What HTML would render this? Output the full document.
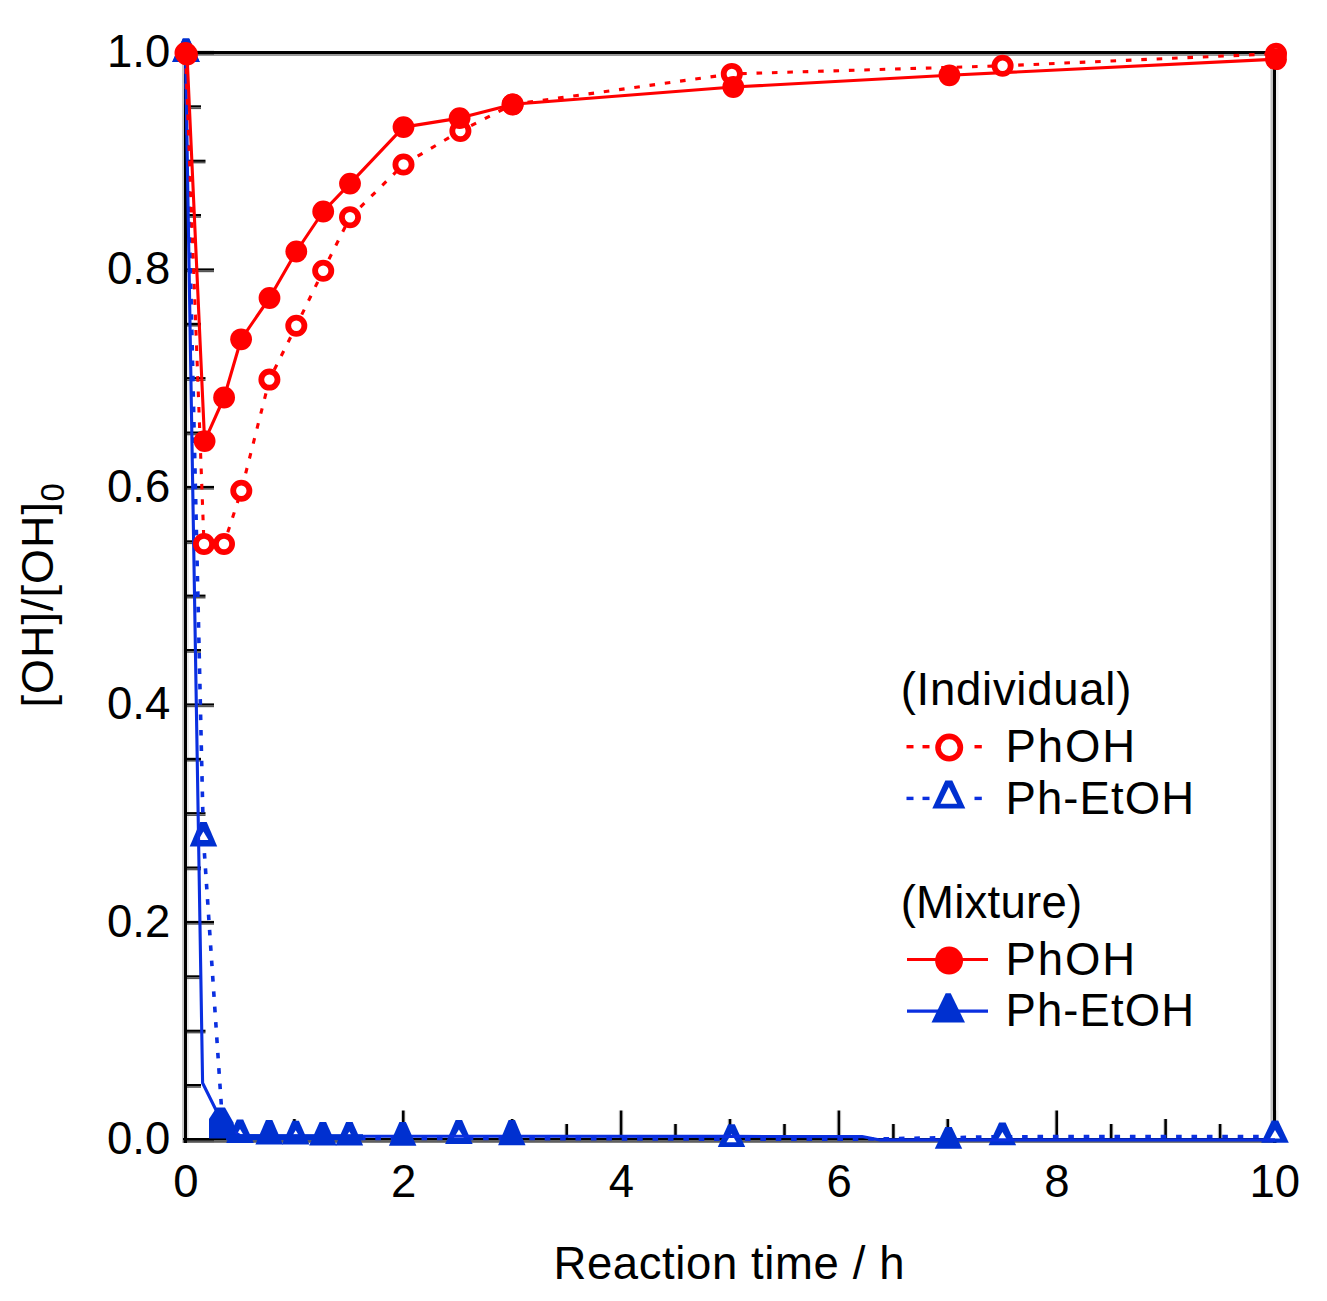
<!DOCTYPE html>
<html><head><meta charset="utf-8"><style>
html,body{margin:0;padding:0;background:#fff;width:1327px;height:1301px;overflow:hidden}
svg{display:block}
text{font-family:"Liberation Sans",sans-serif}
</style></head><body>
<svg width="1327" height="1301" viewBox="0 0 1327 1301">
<rect width="1327" height="1301" fill="#fff"/>
<rect x="182" y="51" width="2" height="1092" fill="#c8c8c8"/>
<rect x="187" y="56" width="2" height="1082" fill="#ececec"/>
<rect x="1270.5" y="56" width="2.5" height="1082" fill="#c0c0c0"/>
<rect x="1276" y="51" width="2.5" height="1092" fill="#f0f0f0"/>
<rect x="183" y="54" width="1094" height="2" fill="#9a9a9a"/>
<rect x="183" y="1140.2" width="1094" height="2.6" fill="#5f5f5f"/>
<rect x="185" y="1138.4" width="29.0" height="2.2" fill="#000"/>
<rect x="185" y="1140.6" width="29.0" height="1.6" fill="#555"/>
<rect x="185" y="1084.0" width="16.0" height="2.2" fill="#000"/>
<rect x="185" y="1086.2" width="16.0" height="1.6" fill="#555"/>
<rect x="185" y="1029.7" width="20.5" height="2.2" fill="#000"/>
<rect x="185" y="1031.8" width="20.5" height="1.6" fill="#555"/>
<rect x="185" y="975.3" width="16.0" height="2.2" fill="#000"/>
<rect x="185" y="977.5" width="16.0" height="1.6" fill="#555"/>
<rect x="185" y="920.9" width="29.0" height="2.2" fill="#000"/>
<rect x="185" y="923.1" width="29.0" height="1.6" fill="#555"/>
<rect x="185" y="866.5" width="16.0" height="2.2" fill="#000"/>
<rect x="185" y="868.7" width="16.0" height="1.6" fill="#555"/>
<rect x="185" y="812.1" width="20.5" height="2.2" fill="#000"/>
<rect x="185" y="814.4" width="20.5" height="1.6" fill="#555"/>
<rect x="185" y="757.8" width="16.0" height="2.2" fill="#000"/>
<rect x="185" y="760.0" width="16.0" height="1.6" fill="#555"/>
<rect x="185" y="703.4" width="29.0" height="2.2" fill="#000"/>
<rect x="185" y="705.6" width="29.0" height="1.6" fill="#555"/>
<rect x="185" y="649.0" width="16.0" height="2.2" fill="#000"/>
<rect x="185" y="651.2" width="16.0" height="1.6" fill="#555"/>
<rect x="185" y="594.6" width="20.5" height="2.2" fill="#000"/>
<rect x="185" y="596.9" width="20.5" height="1.6" fill="#555"/>
<rect x="185" y="540.3" width="16.0" height="2.2" fill="#000"/>
<rect x="185" y="542.5" width="16.0" height="1.6" fill="#555"/>
<rect x="185" y="485.9" width="29.0" height="2.2" fill="#000"/>
<rect x="185" y="488.1" width="29.0" height="1.6" fill="#555"/>
<rect x="185" y="431.5" width="16.0" height="2.2" fill="#000"/>
<rect x="185" y="433.7" width="16.0" height="1.6" fill="#555"/>
<rect x="185" y="377.1" width="20.5" height="2.2" fill="#000"/>
<rect x="185" y="379.4" width="20.5" height="1.6" fill="#555"/>
<rect x="185" y="322.8" width="16.0" height="2.2" fill="#000"/>
<rect x="185" y="325.0" width="16.0" height="1.6" fill="#555"/>
<rect x="185" y="268.4" width="29.0" height="2.2" fill="#000"/>
<rect x="185" y="270.6" width="29.0" height="1.6" fill="#555"/>
<rect x="185" y="214.0" width="16.0" height="2.2" fill="#000"/>
<rect x="185" y="216.2" width="16.0" height="1.6" fill="#555"/>
<rect x="185" y="159.7" width="20.5" height="2.2" fill="#000"/>
<rect x="185" y="161.8" width="20.5" height="1.6" fill="#555"/>
<rect x="185" y="105.3" width="16.0" height="2.2" fill="#000"/>
<rect x="185" y="107.5" width="16.0" height="1.6" fill="#555"/>
<rect x="185" y="50.9" width="29.0" height="2.2" fill="#000"/>
<rect x="185" y="53.1" width="29.0" height="1.6" fill="#555"/>
<rect x="183.2" y="1110.5" width="1" height="29.5" fill="#ccc"/>
<rect x="186.8" y="1110.5" width="1" height="29.5" fill="#ddd"/>
<rect x="184.2" y="1110.5" width="2.6" height="29.5" fill="#000"/>
<rect x="237.6" y="1124.0" width="1" height="16.0" fill="#ccc"/>
<rect x="241.2" y="1124.0" width="1" height="16.0" fill="#ddd"/>
<rect x="238.6" y="1124.0" width="2.6" height="16.0" fill="#000"/>
<rect x="292.1" y="1119.0" width="1" height="21.0" fill="#ccc"/>
<rect x="295.7" y="1119.0" width="1" height="21.0" fill="#ddd"/>
<rect x="293.1" y="1119.0" width="2.6" height="21.0" fill="#000"/>
<rect x="346.6" y="1124.0" width="1" height="16.0" fill="#ccc"/>
<rect x="350.2" y="1124.0" width="1" height="16.0" fill="#ddd"/>
<rect x="347.6" y="1124.0" width="2.6" height="16.0" fill="#000"/>
<rect x="401.0" y="1110.5" width="1" height="29.5" fill="#ccc"/>
<rect x="404.6" y="1110.5" width="1" height="29.5" fill="#ddd"/>
<rect x="402.0" y="1110.5" width="2.6" height="29.5" fill="#000"/>
<rect x="455.4" y="1124.0" width="1" height="16.0" fill="#ccc"/>
<rect x="459.1" y="1124.0" width="1" height="16.0" fill="#ddd"/>
<rect x="456.4" y="1124.0" width="2.6" height="16.0" fill="#000"/>
<rect x="509.9" y="1119.0" width="1" height="21.0" fill="#ccc"/>
<rect x="513.5" y="1119.0" width="1" height="21.0" fill="#ddd"/>
<rect x="510.9" y="1119.0" width="2.6" height="21.0" fill="#000"/>
<rect x="564.4" y="1124.0" width="1" height="16.0" fill="#ccc"/>
<rect x="567.9" y="1124.0" width="1" height="16.0" fill="#ddd"/>
<rect x="565.4" y="1124.0" width="2.6" height="16.0" fill="#000"/>
<rect x="618.8" y="1110.5" width="1" height="29.5" fill="#ccc"/>
<rect x="622.4" y="1110.5" width="1" height="29.5" fill="#ddd"/>
<rect x="619.8" y="1110.5" width="2.6" height="29.5" fill="#000"/>
<rect x="673.2" y="1124.0" width="1" height="16.0" fill="#ccc"/>
<rect x="676.8" y="1124.0" width="1" height="16.0" fill="#ddd"/>
<rect x="674.2" y="1124.0" width="2.6" height="16.0" fill="#000"/>
<rect x="727.7" y="1119.0" width="1" height="21.0" fill="#ccc"/>
<rect x="731.3" y="1119.0" width="1" height="21.0" fill="#ddd"/>
<rect x="728.7" y="1119.0" width="2.6" height="21.0" fill="#000"/>
<rect x="782.2" y="1124.0" width="1" height="16.0" fill="#ccc"/>
<rect x="785.8" y="1124.0" width="1" height="16.0" fill="#ddd"/>
<rect x="783.2" y="1124.0" width="2.6" height="16.0" fill="#000"/>
<rect x="836.6" y="1110.5" width="1" height="29.5" fill="#ccc"/>
<rect x="840.2" y="1110.5" width="1" height="29.5" fill="#ddd"/>
<rect x="837.6" y="1110.5" width="2.6" height="29.5" fill="#000"/>
<rect x="891.1" y="1124.0" width="1" height="16.0" fill="#ccc"/>
<rect x="894.6" y="1124.0" width="1" height="16.0" fill="#ddd"/>
<rect x="892.1" y="1124.0" width="2.6" height="16.0" fill="#000"/>
<rect x="945.5" y="1119.0" width="1" height="21.0" fill="#ccc"/>
<rect x="949.1" y="1119.0" width="1" height="21.0" fill="#ddd"/>
<rect x="946.5" y="1119.0" width="2.6" height="21.0" fill="#000"/>
<rect x="1000.0" y="1124.0" width="1" height="16.0" fill="#ccc"/>
<rect x="1003.5" y="1124.0" width="1" height="16.0" fill="#ddd"/>
<rect x="1001.0" y="1124.0" width="2.6" height="16.0" fill="#000"/>
<rect x="1054.4" y="1110.5" width="1" height="29.5" fill="#ccc"/>
<rect x="1058.0" y="1110.5" width="1" height="29.5" fill="#ddd"/>
<rect x="1055.4" y="1110.5" width="2.6" height="29.5" fill="#000"/>
<rect x="1108.9" y="1124.0" width="1" height="16.0" fill="#ccc"/>
<rect x="1112.5" y="1124.0" width="1" height="16.0" fill="#ddd"/>
<rect x="1109.9" y="1124.0" width="2.6" height="16.0" fill="#000"/>
<rect x="1163.3" y="1119.0" width="1" height="21.0" fill="#ccc"/>
<rect x="1166.9" y="1119.0" width="1" height="21.0" fill="#ddd"/>
<rect x="1164.3" y="1119.0" width="2.6" height="21.0" fill="#000"/>
<rect x="1217.8" y="1124.0" width="1" height="16.0" fill="#ccc"/>
<rect x="1221.3" y="1124.0" width="1" height="16.0" fill="#ddd"/>
<rect x="1218.8" y="1124.0" width="2.6" height="16.0" fill="#000"/>
<rect x="1272.2" y="1110.5" width="1" height="29.5" fill="#ccc"/>
<rect x="1275.8" y="1110.5" width="1" height="29.5" fill="#ddd"/>
<rect x="1273.2" y="1110.5" width="2.6" height="29.5" fill="#000"/>
<rect x="183" y="51" width="1094" height="3" fill="#000"/>
<rect x="183" y="1138" width="1094" height="2.2" fill="#000"/>
<rect x="184" y="51" width="3" height="1092" fill="#000"/>
<rect x="1273" y="51" width="3" height="1092" fill="#000"/>
<polyline points="185.5,52.5 203.4,838.0 221.5,1108.0 222.0,1128.0 240.0,1137.5 269.0,1138.5 295.7,1138.5 349.3,1138.5 403.0,1138.5 458.9,1138.5 512.0,1138.5 731.5,1139.2 860.0,1139.2 1002.4,1136.7 1275.0,1136.5" fill="none" stroke="#0a2fe0" stroke-width="3.6" stroke-dasharray="5.6 9.8" stroke-linejoin="round"/>
<polygon points="200.2,822.0 206.7,822.0 217.2,846.5 189.7,846.5" fill="#0030d0"/><polygon points="203.4,831.5 198.4,840.0 208.4,840.0" fill="#fff"/>
<polygon points="236.8,1119.5 243.2,1119.5 253.8,1143.0 226.2,1143.0" fill="#0030d0"/><polygon points="240.0,1129.0 235.0,1137.5 245.0,1137.5" fill="#fff"/>
<polygon points="292.4,1120.8 298.9,1120.8 309.4,1144.5 281.9,1144.5" fill="#0030d0"/><polygon points="295.7,1130.3 290.7,1138.8 300.7,1138.8" fill="#fff"/>
<polygon points="346.1,1122.0 352.6,1122.0 363.1,1145.5 335.6,1145.5" fill="#0030d0"/><polygon points="349.3,1131.5 344.3,1140.0 354.3,1140.0" fill="#fff"/>
<polygon points="455.6,1120.0 462.1,1120.0 472.6,1144.0 445.1,1144.0" fill="#0030d0"/><polygon points="458.9,1129.5 453.9,1138.0 463.9,1138.0" fill="#fff"/>
<polygon points="728.2,1124.3 734.8,1124.3 745.2,1147.0 717.8,1147.0" fill="#0030d0"/><polygon points="731.5,1133.8 726.5,1142.3 736.5,1142.3" fill="#fff"/>
<polygon points="999.1,1122.5 1005.6,1122.5 1016.1,1145.2 988.6,1145.2" fill="#0030d0"/><polygon points="1002.4,1132.0 997.4,1140.5 1007.4,1140.5" fill="#fff"/>
<polygon points="1271.8,1120.6 1278.2,1120.6 1288.8,1142.8 1261.2,1142.8" fill="#0030d0"/><polygon points="1275.0,1130.1 1270.0,1138.6 1280.0,1138.6" fill="#fff"/>
<polyline points="185.5,52.5 202.6,1083.0 216.0,1110.0 222.0,1124.0 240.0,1135.5 269.2,1136.0 322.8,1136.3 402.6,1136.3 511.8,1136.3 733.0,1136.4 862.0,1136.6 880.0,1139.9 948.2,1139.9 1275.0,1139.9" fill="none" stroke="#0a2fe0" stroke-width="3.1" stroke-linejoin="round"/>
<polygon points="209,1138.5 209,1119 216.5,1107.5 225,1107.5 233.5,1122.5 236.5,1138.5" fill="#0030d0"/>
<rect x="226" y="1134.2" width="137" height="6" fill="#0030d0"/>
<polygon points="182.8,38.5 189.2,38.5 199.8,62.0 172.2,62.0" fill="#0030d0"/>
<polygon points="265.9,1120.0 272.4,1120.0 282.9,1144.5 255.4,1144.5" fill="#0030d0"/>
<polygon points="319.6,1122.0 326.1,1122.0 336.6,1145.5 309.1,1145.5" fill="#0030d0"/>
<polygon points="399.4,1122.0 405.9,1122.0 416.4,1145.7 388.9,1145.7" fill="#0030d0"/>
<polygon points="508.6,1120.0 515.0,1120.0 525.5,1145.3 498.1,1145.3" fill="#0030d0"/>
<polygon points="945.2,1127.0 951.8,1127.0 962.2,1148.8 934.8,1148.8" fill="#0030d0"/>
<polygon points="182.8,38.5 189.2,38.5 199.8,62.0 172.2,62.0" fill="#0030d0"/><polygon points="186.0,48.0 181.0,56.5 191.0,56.5" fill="#fff"/>
<polyline points="185.5,53.0 204.0,544.0 224.0,544.0 241.3,490.7 269.4,379.6 296.3,325.8 323.2,270.7 350.0,217.3 403.5,164.5 460.4,131.0 512.5,104.5 731.8,73.9 1002.6,65.8 1276.0,53.7" fill="none" stroke="#ff0000" stroke-width="3.1" stroke-dasharray="5.6 9.8" stroke-linejoin="round"/>
<circle cx="185.5" cy="53.0" r="8.1" fill="#fff" stroke="#ff0000" stroke-width="5.8"/>
<circle cx="204.0" cy="544.0" r="8.1" fill="#fff" stroke="#ff0000" stroke-width="5.8"/>
<circle cx="224.0" cy="544.0" r="8.1" fill="#fff" stroke="#ff0000" stroke-width="5.8"/>
<circle cx="241.3" cy="490.7" r="8.1" fill="#fff" stroke="#ff0000" stroke-width="5.8"/>
<circle cx="269.4" cy="379.6" r="8.1" fill="#fff" stroke="#ff0000" stroke-width="5.8"/>
<circle cx="296.3" cy="325.8" r="8.1" fill="#fff" stroke="#ff0000" stroke-width="5.8"/>
<circle cx="323.2" cy="270.7" r="8.1" fill="#fff" stroke="#ff0000" stroke-width="5.8"/>
<circle cx="350.0" cy="217.3" r="8.1" fill="#fff" stroke="#ff0000" stroke-width="5.8"/>
<circle cx="403.5" cy="164.5" r="8.1" fill="#fff" stroke="#ff0000" stroke-width="5.8"/>
<circle cx="460.4" cy="131.0" r="8.1" fill="#fff" stroke="#ff0000" stroke-width="5.8"/>
<circle cx="512.5" cy="104.5" r="8.1" fill="#fff" stroke="#ff0000" stroke-width="5.8"/>
<circle cx="731.8" cy="73.9" r="8.1" fill="#fff" stroke="#ff0000" stroke-width="5.8"/>
<circle cx="1002.6" cy="65.8" r="8.1" fill="#fff" stroke="#ff0000" stroke-width="5.8"/>
<circle cx="1276.0" cy="53.7" r="8.1" fill="#fff" stroke="#ff0000" stroke-width="5.8"/>
<polyline points="187.0,54.5 204.6,441.1 224.1,397.5 241.1,339.3 269.5,298.0 296.3,251.5 323.2,211.5 350.0,183.6 403.5,127.1 459.6,118.1 512.8,104.3 733.3,87.0 949.4,75.3 1276.0,59.2" fill="none" stroke="#ff0000" stroke-width="3.1" stroke-linejoin="round"/>
<circle cx="187.0" cy="54.5" r="10.9" fill="#ff0000"/>
<circle cx="204.6" cy="441.1" r="10.9" fill="#ff0000"/>
<circle cx="224.1" cy="397.5" r="10.9" fill="#ff0000"/>
<circle cx="241.1" cy="339.3" r="10.9" fill="#ff0000"/>
<circle cx="269.5" cy="298.0" r="10.9" fill="#ff0000"/>
<circle cx="296.3" cy="251.5" r="10.9" fill="#ff0000"/>
<circle cx="323.2" cy="211.5" r="10.9" fill="#ff0000"/>
<circle cx="350.0" cy="183.6" r="10.9" fill="#ff0000"/>
<circle cx="403.5" cy="127.1" r="10.9" fill="#ff0000"/>
<circle cx="459.6" cy="118.1" r="10.9" fill="#ff0000"/>
<circle cx="512.8" cy="104.3" r="10.9" fill="#ff0000"/>
<circle cx="733.3" cy="87.0" r="10.9" fill="#ff0000"/>
<circle cx="949.4" cy="75.3" r="10.9" fill="#ff0000"/>
<circle cx="1276.0" cy="59.2" r="10.9" fill="#ff0000"/>
<text x="170.3" y="1154.0" font-family="Liberation Sans, sans-serif" font-size="45.5" text-anchor="end" fill="#000">0.0</text>
<text x="170.3" y="936.5" font-family="Liberation Sans, sans-serif" font-size="45.5" text-anchor="end" fill="#000">0.2</text>
<text x="170.3" y="719.0" font-family="Liberation Sans, sans-serif" font-size="45.5" text-anchor="end" fill="#000">0.4</text>
<text x="170.3" y="501.5" font-family="Liberation Sans, sans-serif" font-size="45.5" text-anchor="end" fill="#000">0.6</text>
<text x="170.3" y="284.0" font-family="Liberation Sans, sans-serif" font-size="45.5" text-anchor="end" fill="#000">0.8</text>
<text x="170.3" y="66.5" font-family="Liberation Sans, sans-serif" font-size="45.5" text-anchor="end" fill="#000">1.0</text>
<text x="185.8" y="1197.2" font-family="Liberation Sans, sans-serif" font-size="45.5" text-anchor="middle" fill="#000">0</text>
<text x="403.6" y="1197.2" font-family="Liberation Sans, sans-serif" font-size="45.5" text-anchor="middle" fill="#000">2</text>
<text x="621.4" y="1197.2" font-family="Liberation Sans, sans-serif" font-size="45.5" text-anchor="middle" fill="#000">4</text>
<text x="839.2" y="1197.2" font-family="Liberation Sans, sans-serif" font-size="45.5" text-anchor="middle" fill="#000">6</text>
<text x="1057.0" y="1197.2" font-family="Liberation Sans, sans-serif" font-size="45.5" text-anchor="middle" fill="#000">8</text>
<text x="1274.8" y="1197.2" font-family="Liberation Sans, sans-serif" font-size="45.5" text-anchor="middle" fill="#000">10</text>
<text x="553.5" y="1278.5" font-family="Liberation Sans, sans-serif" font-size="45.5" textLength="351" lengthAdjust="spacing" fill="#000">Reaction time / h</text>
<text transform="translate(53,707.5) rotate(-90)" font-family="Liberation Sans, sans-serif" font-size="45" textLength="205.5" lengthAdjust="spacing" fill="#000">[OH]/[OH]</text>
<text transform="translate(64.3,501.5) rotate(-90)" font-family="Liberation Sans, sans-serif" font-size="33" fill="#000">0</text>
<text x="900.7" y="705" font-family="Liberation Sans, sans-serif" font-size="45.5" textLength="230.6" lengthAdjust="spacing" fill="#000">(Individual)</text>
<rect x="906.5" y="745.0" width="7.0" height="3.4" fill="#ff0000"/><rect x="922.5" y="745.0" width="7.0" height="3.4" fill="#ff0000"/><rect x="938.0" y="745.0" width="8.0" height="3.4" fill="#ff0000"/><rect x="954.0" y="745.0" width="8.0" height="3.4" fill="#ff0000"/><rect x="974.5" y="745.0" width="7.3" height="3.4" fill="#ff0000"/>
<circle cx="949.2" cy="747.6" r="11.2" fill="#fff" stroke="#ff0000" stroke-width="5.6"/>
<text x="1005.5" y="762" font-family="Liberation Sans, sans-serif" font-size="45.5" textLength="129.6" lengthAdjust="spacing" fill="#000">PhOH</text>
<rect x="906.5" y="796.7" width="7.0" height="3.4" fill="#0a2fe0"/><rect x="922.5" y="796.7" width="7.0" height="3.4" fill="#0a2fe0"/><rect x="974.5" y="796.7" width="7.3" height="3.4" fill="#0a2fe0"/>
<polygon points="945.3,780.5 952.3,780.5 965.3,808.5 932.3,808.5" fill="#0030d0"/><polygon points="948.8,787.0 940.5,803.8 957.1,803.8" fill="#fff"/>
<text x="1005.5" y="813.7" font-family="Liberation Sans, sans-serif" font-size="45.5" textLength="188.6" lengthAdjust="spacing" fill="#000">Ph-EtOH</text>
<text x="900.7" y="918" font-family="Liberation Sans, sans-serif" font-size="45.5" textLength="181.5" lengthAdjust="spacing" fill="#000">(Mixture)</text>
<line x1="907" y1="959.5" x2="988" y2="959.5" stroke="#ff0000" stroke-width="3.2"/>
<circle cx="949.1" cy="960.6" r="14.0" fill="#ff0000"/>
<text x="1005.5" y="974.6" font-family="Liberation Sans, sans-serif" font-size="45.5" textLength="129.6" lengthAdjust="spacing" fill="#000">PhOH</text>
<line x1="907" y1="1011.2" x2="988" y2="1011.2" stroke="#0a2fe0" stroke-width="3.2"/>
<polygon points="945.7,993.2 950.7,993.2 965.0,1022.6 931.5,1022.6" fill="#0030d0"/>
<text x="1005.5" y="1026" font-family="Liberation Sans, sans-serif" font-size="45.5" textLength="188.6" lengthAdjust="spacing" fill="#000">Ph-EtOH</text>
</svg>
</body></html>
